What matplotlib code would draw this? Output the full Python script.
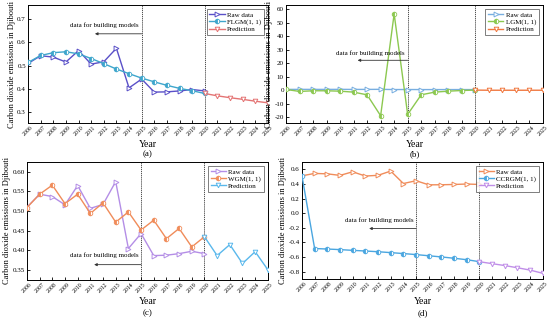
import matplotlib
matplotlib.use("Agg")
import matplotlib.pyplot as plt
import numpy as np

plt.rcParams['font.family'] = ['Liberation Serif', 'DejaVu Serif']

years = list(range(2006, 2026))
fit_years = list(range(2006, 2021))
pred_years = list(range(2020, 2026))
year_labels = [str(y) for y in years]

raw = [0.510, 0.543, 0.537, 0.516, 0.565, 0.507, 0.517, 0.575, 0.405, 0.443,
       0.387, 0.388, 0.392, 0.398, 0.392]

flgm = [0.514, 0.544, 0.556, 0.560, 0.551, 0.531, 0.509, 0.486, 0.466, 0.447,
        0.431, 0.416, 0.403, 0.393, 0.381]
flgm_pred = [0.381, 0.371, 0.363, 0.356, 0.348, 0.341]

lgm = [0.5, -1.0, -0.5, -0.5, -0.8, -1.5, -3.5, -19.0, 56.5, -18.0,
       -3.5, -1.5, -0.8, -0.3, 0.0]
lgm_pred = [0.0, -0.1, -0.1, -0.1, -0.1, -0.1]

wgm = [0.509, 0.543, 0.566, 0.519, 0.543, 0.494, 0.521, 0.472, 0.498, 0.452,
       0.477, 0.430, 0.456, 0.409, 0.435]
wgm_pred = [0.435, 0.387, 0.415, 0.367, 0.397, 0.351]

ccrgm = [0.510, -0.483, -0.490, -0.498, -0.508, -0.517, -0.527, -0.539, -0.552, -0.566,
         -0.582, -0.598, -0.616, -0.636, -0.663]
ccrgm_pred = [-0.663, -0.690, -0.716, -0.746, -0.778, -0.822]

panels = [
    dict(pos=[0.051, 0.616, 0.436, 0.368], model=flgm, pred=flgm_pred, name='FLGM(1, 1)',
         c_raw='#5a50c8', c_mod='#3ea6cc', c_pred='#e47474',
         ylim=(0.255, 0.76), yticks=[0.3, 0.4, 0.5, 0.6, 0.7], fmt='{:.1f}',
         txt_y=0.672, arr_y=0.637, lab='(a)', lab_y=154),
    dict(pos=[0.520, 0.616, 0.467, 0.368], model=lgm, pred=lgm_pred, name='LGM(1, 1)',
         c_raw='#78aee0', c_mod='#8cc850', c_pred='#f07840',
         ylim=(-24.3, 63), yticks=[-20, -10, 0, 10, 20, 30, 40, 50, 60], fmt='{:.0f}',
         txt_y=27.0, arr_y=22.1, lab='(b)', lab_y=154),
    dict(pos=[0.049, 0.125, 0.438, 0.369], model=wgm, pred=wgm_pred, name='WGM(1, 1)',
         c_raw='#b48ee6', c_mod='#f08c5a', c_pred='#5ab8ec',
         ylim=(0.325, 0.625), yticks=[0.35, 0.40, 0.45, 0.50, 0.55, 0.60], fmt='{:.2f}',
         txt_y=0.388, arr_y=0.364, lab='(c)', lab_y=313),
    dict(pos=[0.549, 0.128, 0.438, 0.366], model=ccrgm, pred=ccrgm_pred, name='CCRGM(1, 1)',
         c_raw='#f08c5a', c_mod='#4aa6e0', c_pred='#c08ee8',
         ylim=(-0.9, 0.70), yticks=[-0.8, -0.6, -0.4, -0.2, 0.0, 0.2, 0.4, 0.6], fmt='{:.1f}',
         txt_y=-0.09, arr_y=-0.21, lab='(d)', lab_y=313),
]

fig = plt.figure(figsize=(5.5, 3.2), dpi=100)

for p in panels:
    ax = fig.add_axes(p['pos'])
    ax.plot(fit_years, raw, color=p['c_raw'], lw=1.0, marker='>', ms=3.5,
            mfc='white', mec=p['c_raw'], mew=0.7, label='Raw data', zorder=3)
    ax.plot(fit_years, p['model'], color=p['c_mod'], lw=1.0, marker='o', ms=3.3,
            fillstyle='left', mfc=p['c_mod'], mfcalt='white', mec=p['c_mod'], mew=0.6,
            label=p['name'], zorder=3)
    ax.plot(pred_years, p['pred'], color=p['c_pred'], lw=1.0, marker='v', ms=3.3,
            mfc='white', mec=p['c_pred'], mew=0.7, label='Prediction', zorder=3)
    for xv in (2015, 2020):
        ax.axvline(xv, color='#333333', lw=0.6, ls=(0, (1.5, 1)), zorder=1)
    ax.set_xlim(2006, 2025)
    ax.set_ylim(*p['ylim'])
    ax.set_xticks(years)
    ax.set_xticklabels(year_labels, rotation=45, fontsize=4.2)
    ax.set_yticks(p['yticks'])
    ax.set_yticklabels([p['fmt'].format(v) for v in p['yticks']], fontsize=5)
    ax.tick_params(direction='in', length=2, width=0.6, pad=1.5)
    for s in ax.spines.values():
        s.set_linewidth(0.7)
    ax.set_xlabel('Year', fontsize=7, labelpad=2.5)
    ax.set_ylabel('Carbon dioxide emissions in Djibouti', fontsize=6, labelpad=1)
    xc = p['pos'][0] + p['pos'][2] / 2
    fig.text(xc, 1 - p['lab_y'] / 320, p['lab'], ha='center', va='center', fontsize=6.5)
    ax.text(2014.8, p['txt_y'], 'data for building models', ha='right', va='center', fontsize=5)
    ax.annotate('', xy=(2011.3, p['arr_y']), xytext=(2015, p['arr_y']),
                arrowprops=dict(arrowstyle='-|>', color='#333333', lw=0.6,
                                mutation_scale=4, shrinkA=0, shrinkB=0))
    leg = ax.legend(loc='upper right', fontsize=5, frameon=True, fancybox=False,
                    edgecolor='#444444', handlelength=2.2, borderpad=0.4,
                    labelspacing=0.15, handletextpad=0.3, borderaxespad=0.6)
    leg.get_frame().set_linewidth(0.6)

fig.savefig('out.png', dpi=100)
